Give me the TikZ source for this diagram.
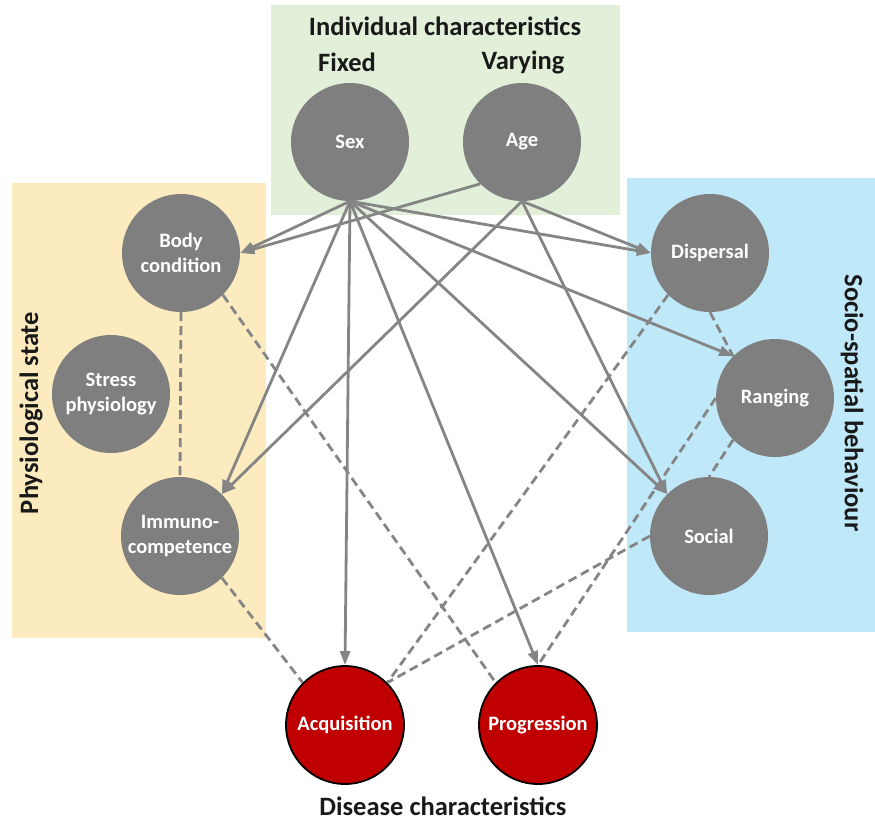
\documentclass[tikz,border=0pt]{standalone}
\usepackage{fontspec}
\setmainfont{Carlito}
\usetikzlibrary{arrows.meta}
\definecolor{nodegray}{HTML}{7F7F7F}
\definecolor{linegray}{HTML}{858585}
\definecolor{disred}{HTML}{C00000}
\definecolor{greenbg}{HTML}{E2F0D9}
\definecolor{yellowbg}{HTML}{FCEBBF}
\definecolor{bluebg}{HTML}{BFE8F8}
\begin{document}
\begin{tikzpicture}[x=1pt,y=-1pt,
  circ/.style={circle,fill=nodegray,minimum size=118pt,inner sep=0pt,text=white,
    font=\bfseries\fontsize{20.5}{25}\selectfont,align=center},
  disc/.style={circ,fill=disred,draw=black,line width=1.8pt},
  head/.style={font=\bfseries\fontsize{26.5}{30}\selectfont,text=black!90},
  arr/.style={draw=linegray,line width=2.8pt,-{Triangle[length=14pt,width=10pt]}},
  dsh/.style={draw=linegray,line width=2.8pt,dash pattern=on 9pt off 5pt}]
\useasboundingbox (0,0) rectangle (875,823);
\fill[greenbg] (271,5) rectangle (620,215);
\fill[yellowbg] (12,183) rectangle (266,638);
\fill[bluebg] (627,178) rectangle (875,632);

\node[head] (tind) at (445,26) {Individual characteristics};
\node[head] (tfix) at (347,62) {Fixed};
\node[head] (tvar) at (523,62) {Varying};
\node[head,rotate=90] (tphys) at (31,413) {Physiological state};
\node[head,rotate=-90] (tsoc) at (852,403) {Socio-spatial behaviour};
\node[head] (tdis) at (443,806) {Disease characteristics};

\node[circ] (sex) at (350,142) {Sex};
\node[circ] (age) at (522,142) {Age};
\node[circ] (body) at (181,253) {Body\\condition};
\node[circ] (stress) at (111,394) {Stress\\physiology};
\node[circ] (immuno) at (180,536) {Immuno-\\competence};
\node[circ] (disp) at (710,253) {Dispersal};
\node[circ] (rang) at (775,398) {Ranging};
\node[circ] (soc) at (709,536) {Social};
\node[disc] (acq) at (345,725) {Acquisition};
\node[disc] (prog) at (538,725) {Progression};

% dashed associations
\draw[dsh] (body.south) -- (immuno.north);
\draw[dsh] (body.-45) -- (prog.135);
\draw[dsh] (immuno.-45) -- (acq.135);
\draw[dsh] (disp.225) -- (acq.45);
\draw[dsh] (soc.west) -- (acq.45);
\draw[dsh] (disp.south) -- (rang.135);
\draw[dsh] (rang.west) -- (prog.north);
\draw[dsh] (rang.225) -- (soc.north);

% arrows from Sex
\draw[arr] (sex.south) -- (body.east);
\draw[arr] (sex.south) -- (immuno.45);
\draw[arr] (sex.south) -- (acq.north);
\draw[arr] (sex.south) -- (prog.north);
\draw[arr] (sex.south) -- (soc.135);
\draw[arr] (sex.south) -- (rang.135);
\draw[arr] (sex.south) -- (disp.west);
% arrows from Age
\draw[arr] (age.225) -- (body.east);
\draw[arr] (age.south) -- (immuno.45);
\draw[arr] (age.south) -- (soc.135);
\draw[arr] (age.south) -- (disp.west);
\end{tikzpicture}
\end{document}
